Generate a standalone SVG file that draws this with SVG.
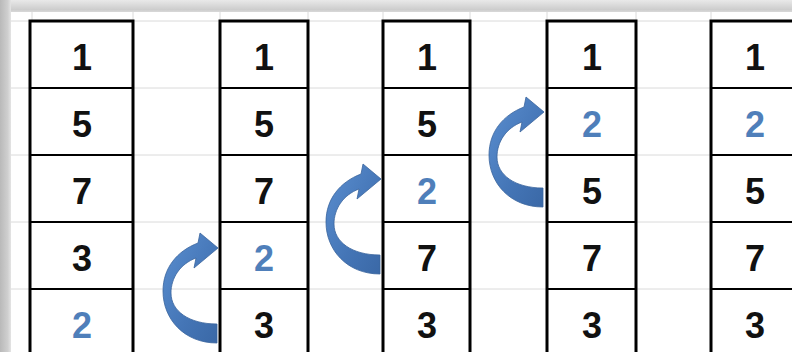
<svg xmlns="http://www.w3.org/2000/svg" width="792" height="352" viewBox="0 0 792 352">
<style>
.cell{fill:#ffffff;stroke:none}
.box{fill:none;stroke:#000;stroke-width:3}
.sep{stroke:#000;stroke-width:2}
.grid{stroke:#dadada;stroke-width:1}
.n{font-family:"Liberation Sans",Arial,sans-serif;font-weight:bold;font-size:36px;text-anchor:middle;fill:#111}
.b{fill:#4f7fba}
.arrow{fill:url(#ag);stroke:#3a659d;stroke-width:0.8}
</style>
<defs>
<linearGradient id="lg" x1="0" y1="0" x2="1" y2="0">
<stop offset="0" stop-color="#b9b9b9"/>
<stop offset="0.7" stop-color="#cfcfcf"/>
<stop offset="1" stop-color="#e4e4e4"/>
</linearGradient>
<linearGradient id="tg" x1="0" y1="0" x2="0" y2="1">
<stop offset="0" stop-color="#e9e9e9"/>
<stop offset="0.8" stop-color="#cdcdcd"/>
<stop offset="1" stop-color="#d8d8d8"/>
</linearGradient>
<linearGradient id="ag" x1="0" y1="0" x2="1" y2="1">
<stop offset="0" stop-color="#5b8fd0"/>
<stop offset="0.6" stop-color="#4475b6"/>
<stop offset="1" stop-color="#3a68a6"/>
</linearGradient>
<path id="arr" d="M543,207 C510,207 489,183 489,155 C489,132 503,115 524,107 L526,97 L544,112 L520,132 L522,122 C506,128 497,142 497,157 C497,175 515,188 543,188 Z"/>
</defs>
<rect x="0" y="0" width="792" height="352" fill="#ffffff"/>
<rect x="0" y="0" width="792" height="12" fill="url(#tg)"/>
<rect x="0" y="0" width="11" height="352" fill="url(#lg)"/>
<g id="grid">
<line class="grid" x1="11" y1="21" x2="792" y2="21"/>
<line class="grid" x1="11" y1="88" x2="792" y2="88"/>
<line class="grid" x1="11" y1="155" x2="792" y2="155"/>
<line class="grid" x1="11" y1="222" x2="792" y2="222"/>
<line class="grid" x1="11" y1="289" x2="792" y2="289"/>
<line class="grid" x1="32" y1="12" x2="32" y2="352"/>
<line class="grid" x1="133" y1="12" x2="133" y2="352"/>
<line class="grid" x1="220" y1="12" x2="220" y2="352"/>
<line class="grid" x1="308" y1="12" x2="308" y2="352"/>
<line class="grid" x1="383" y1="12" x2="383" y2="352"/>
<line class="grid" x1="470" y1="12" x2="470" y2="352"/>
<line class="grid" x1="547" y1="12" x2="547" y2="352"/>
<line class="grid" x1="636" y1="12" x2="636" y2="352"/>
<line class="grid" x1="711" y1="12" x2="711" y2="352"/>
</g>
<g id="col1">
<rect class="cell" x="30" y="21" width="103" height="335"/>
<line class="sep" x1="30" y1="88" x2="133" y2="88"/>
<line class="sep" x1="30" y1="155" x2="133" y2="155"/>
<line class="sep" x1="30" y1="222" x2="133" y2="222"/>
<line class="sep" x1="30" y1="289" x2="133" y2="289"/>
<rect class="box" x="30" y="21" width="103" height="335"/>
<text class="n" x="82" y="70">1</text>
<text class="n" x="82" y="137">5</text>
<text class="n" x="82" y="204">7</text>
<text class="n" x="82" y="271">3</text>
<text class="n b" x="82" y="338">2</text>
</g>
<g id="col2">
<rect class="cell" x="220" y="21" width="88" height="335"/>
<line class="sep" x1="220" y1="88" x2="308" y2="88"/>
<line class="sep" x1="220" y1="155" x2="308" y2="155"/>
<line class="sep" x1="220" y1="222" x2="308" y2="222"/>
<line class="sep" x1="220" y1="289" x2="308" y2="289"/>
<rect class="box" x="220" y="21" width="88" height="335"/>
<text class="n" x="264" y="70">1</text>
<text class="n" x="264" y="137">5</text>
<text class="n" x="264" y="204">7</text>
<text class="n b" x="264" y="271">2</text>
<text class="n" x="264" y="338">3</text>
</g>
<g id="col3">
<rect class="cell" x="383" y="21" width="87" height="335"/>
<line class="sep" x1="383" y1="88" x2="470" y2="88"/>
<line class="sep" x1="383" y1="155" x2="470" y2="155"/>
<line class="sep" x1="383" y1="222" x2="470" y2="222"/>
<line class="sep" x1="383" y1="289" x2="470" y2="289"/>
<rect class="box" x="383" y="21" width="87" height="335"/>
<text class="n" x="427" y="70">1</text>
<text class="n" x="427" y="137">5</text>
<text class="n b" x="427" y="204">2</text>
<text class="n" x="427" y="271">7</text>
<text class="n" x="427" y="338">3</text>
</g>
<g id="col4">
<rect class="cell" x="547" y="21" width="89" height="335"/>
<line class="sep" x1="547" y1="88" x2="636" y2="88"/>
<line class="sep" x1="547" y1="155" x2="636" y2="155"/>
<line class="sep" x1="547" y1="222" x2="636" y2="222"/>
<line class="sep" x1="547" y1="289" x2="636" y2="289"/>
<rect class="box" x="547" y="21" width="89" height="335"/>
<text class="n" x="592" y="70">1</text>
<text class="n b" x="592" y="137">2</text>
<text class="n" x="592" y="204">5</text>
<text class="n" x="592" y="271">7</text>
<text class="n" x="592" y="338">3</text>
</g>
<g id="col5">
<rect class="cell" x="711" y="21" width="88" height="335"/>
<line class="sep" x1="711" y1="88" x2="799" y2="88"/>
<line class="sep" x1="711" y1="155" x2="799" y2="155"/>
<line class="sep" x1="711" y1="222" x2="799" y2="222"/>
<line class="sep" x1="711" y1="289" x2="799" y2="289"/>
<rect class="box" x="711" y="21" width="88" height="335"/>
<text class="n" x="755" y="70">1</text>
<text class="n b" x="755" y="137">2</text>
<text class="n" x="755" y="204">5</text>
<text class="n" x="755" y="271">7</text>
<text class="n" x="755" y="338">3</text>
</g>
<g id="connectors">
<use href="#arr" class="arrow" transform="translate(-326,136)"/>
<use href="#arr" class="arrow" transform="translate(-163,67)"/>
<use href="#arr" class="arrow"/>
</g>
</svg>
